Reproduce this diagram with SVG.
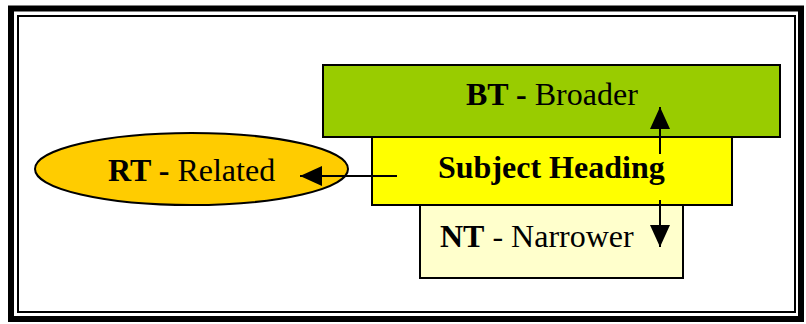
<svg xmlns="http://www.w3.org/2000/svg" width="806" height="324" viewBox="0 0 806 324">
  <style>
    .box { stroke: #000; stroke-width: 2; }
    .lbl { font-family: "Liberation Serif", "Times New Roman", serif; font-size: 32px; fill: #000; }
    .b { font-weight: bold; }
    .conn { stroke: #000; stroke-width: 2; fill: none; }
  </style>
  <defs>
    <marker id="head" viewBox="0 0 22 20" refX="22" refY="10" markerWidth="22" markerHeight="20" markerUnits="userSpaceOnUse" orient="auto">
      <path d="M0,0 L22,10 L0,20 Z" fill="#000"/>
    </marker>
  </defs>

  <!-- page background and double frame -->
  <rect x="0" y="0" width="806" height="324" fill="#fff"/>
  <rect x="11" y="8.5" width="790" height="310.5" fill="none" stroke="#000" stroke-width="6"/>
  <rect x="18" y="16" width="777" height="296" fill="none" stroke="#000" stroke-width="2"/>

  <g id="bt">
    <rect class="box" x="323" y="65" width="457" height="72" fill="#99CC00"/>
    <text class="lbl" x="466" y="105"><tspan class="b">BT -</tspan> Broader</text>
  </g>

  <g id="nt">
    <rect class="box" x="420" y="205" width="263" height="73" fill="#FFFFCC"/>
    <text class="lbl" x="440" y="247"><tspan class="b">NT</tspan> - Narrower</text>
  </g>

  <g id="subject">
    <rect class="box" x="372" y="137" width="360" height="68" fill="#FFFF00"/>
    <text class="lbl b" x="438" y="178">Subject Heading</text>
  </g>

  <g id="rt">
    <ellipse class="box" cx="191.5" cy="169" rx="156.5" ry="36" fill="#FFCC00"/>
    <text class="lbl" x="108" y="181"><tspan class="b">RT -</tspan> Related</text>
  </g>

  <g id="connectors">
    <line class="conn" x1="397" y1="176" x2="300" y2="176" marker-end="url(#head)"/>
    <line class="conn" x1="660" y1="154" x2="660" y2="107" marker-end="url(#head)"/>
    <line class="conn" x1="660" y1="200" x2="660" y2="247" marker-end="url(#head)"/>
  </g>
</svg>
